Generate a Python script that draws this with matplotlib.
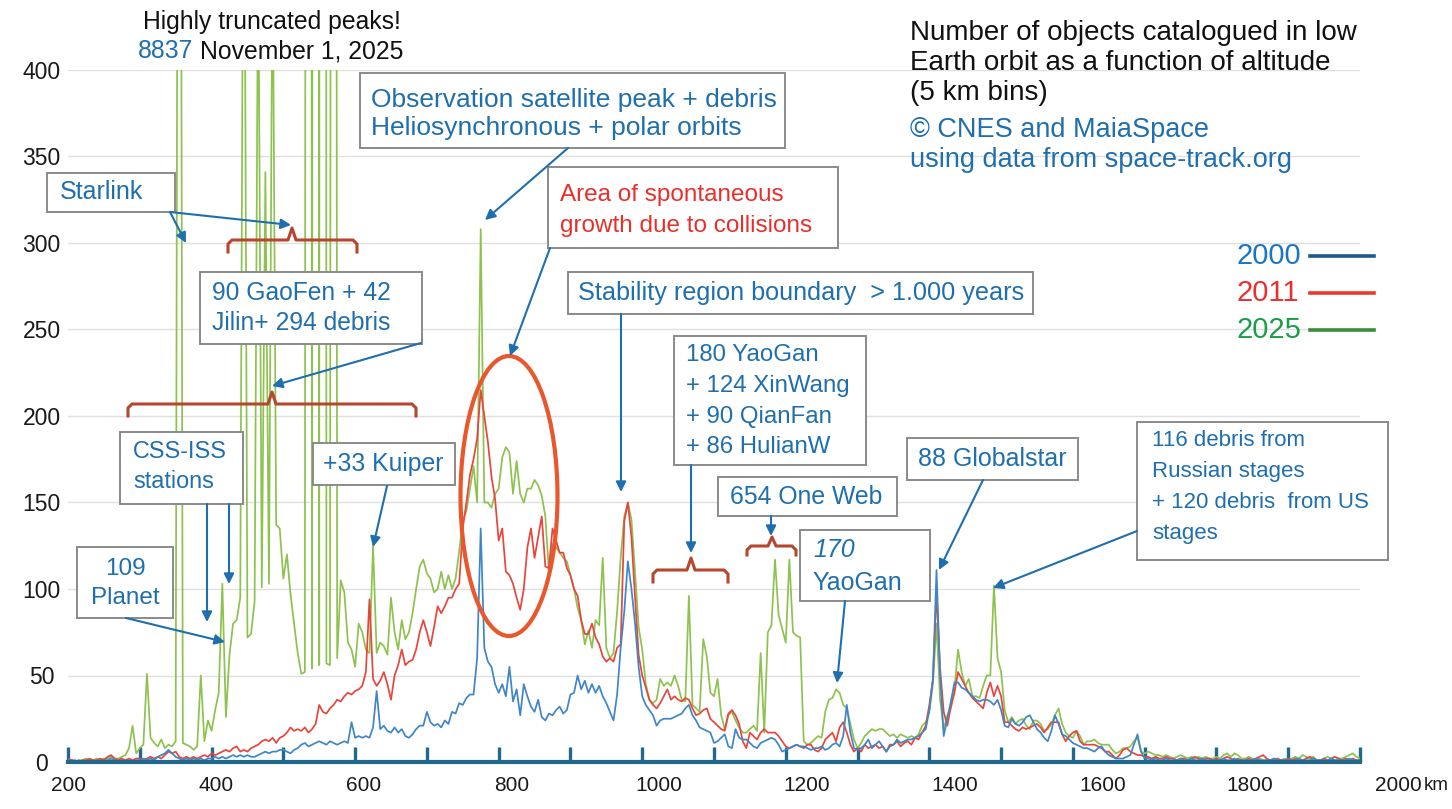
import numpy as np
import matplotlib
matplotlib.use("Agg")
import matplotlib.pyplot as plt
from matplotlib.patches import Rectangle, Ellipse, FancyArrowPatch
from matplotlib.lines import Line2D
from matplotlib.transforms import IdentityTransform

plt.rcParams['font.family'] = ['Liberation Sans', 'DejaVu Sans']

# --- data: objects per 5 km altitude bin, 200 .. 2000 km ---
altitude = np.arange(200, 2001, 5)

count_2000 = [
    0, 1, 0, 1, 0, 0, 1, 0, 1, 0, 1, 1, 2, 1, 0, 1, 0, 1, 0, 1,                # 200
    1, 2, 1, 2, 1, 3, 4, 5, 7, 5, 3, 2, 1, 2, 1, 2, 1, 2, 1, 2,                # 300
    2, 3, 2, 3, 2, 3, 4, 3, 4, 3, 4, 3, 3, 4, 5, 6, 5, 6, 6, 7,                # 400
    7, 6, 5, 7, 8, 10, 11, 9, 10, 11, 12, 11, 10, 12, 11, 10, 11, 12, 11, 23,  # 500
    14, 15, 14, 15, 14, 20, 41, 19, 21, 18, 17, 20, 17, 19, 15, 14, 16, 19, 21, 21,  # 600
    29, 23, 21, 22, 20, 24, 22, 29, 28, 34, 33, 37, 39, 39, 60, 135, 66, 58, 55, 45,  # 700
    40, 45, 38, 55, 35, 42, 27, 45, 38, 32, 29, 36, 26, 24, 28, 27, 30, 32, 28, 30,  # 800
    39, 40, 50, 42, 47, 40, 45, 40, 44, 38, 34, 29, 24, 39, 66, 87, 116, 100, 80, 55,  # 900
    38, 33, 30, 27, 21, 24, 25, 25, 25, 26, 27, 28, 31, 33, 27, 24, 20, 19, 18, 17,  # 1000
    11, 12, 14, 16, 9, 8, 19, 14, 13, 13, 11, 9, 8, 11, 12, 13, 14, 13, 10, 6,       # 1100
    7, 8, 9, 10, 9, 9, 8, 7, 8, 8, 9, 7, 8, 10, 11, 9, 15, 33, 17, 8,                # 1200
    7, 8, 10, 13, 8, 10, 12, 9, 6, 9, 10, 13, 11, 12, 13, 13, 14, 15, 17, 19,        # 1300
    30, 48, 111, 50, 15, 25, 35, 46, 46, 43, 42, 40, 38, 36, 35, 36, 36, 35, 33, 36,  # 1400
    30, 21, 20, 25, 22, 21, 23, 26, 27, 23, 19, 17, 14, 12, 18, 27, 22, 16, 15, 13,  # 1500
    11, 10, 9, 8, 8, 7, 6, 8, 9, 6, 4, 3, 2, 2, 2, 3, 4, 10, 16, 6,                  # 1600
    2, 2, 1, 2, 1, 1, 2, 1, 1, 1, 2, 1, 1, 2, 1, 1, 2, 1, 1, 1,                      # 1700
    1, 1, 2, 1, 1, 2, 1, 1, 1, 1, 1, 2, 1, 1, 1, 1, 2, 1, 1, 1,                      # 1800
    1, 1, 1, 2, 1, 1, 1, 2, 1, 1, 1, 1, 2, 1, 1, 1, 1, 2, 1, 1, 1,                   # 1900-2000
]

count_2011 = [
    2, 1, 1, 0, 1, 1, 2, 1, 1, 2, 1, 3, 4, 2, 1, 2, 1, 2, 1, 2,
    2, 1, 2, 3, 2, 3, 2, 4, 6, 5, 6, 3, 2, 3, 2, 3, 2, 3, 4, 3,
    5, 4, 5, 6, 7, 6, 8, 9, 6, 7, 6, 8, 9, 10, 12, 13, 12, 14, 11, 14,
    15, 17, 20, 18, 19, 18, 20, 17, 19, 22, 33, 29, 28, 31, 33, 36, 35, 38, 40, 39,
    41, 42, 44, 52, 94, 48, 44, 47, 52, 45, 36, 50, 56, 65, 56, 58, 59, 65, 75, 82,
    75, 67, 78, 90, 86, 90, 95, 95, 100, 103, 135, 150, 166, 175, 187, 215, 200, 185, 165, 152,
    128, 135, 110, 108, 103, 95, 88, 100, 124, 135, 118, 130, 142, 113, 112, 135, 128, 121, 121, 112,
    108, 100, 96, 82, 74, 74, 80, 72, 68, 61, 58, 60, 58, 66, 68, 139, 150, 130, 95, 62,
    50, 43, 36, 33, 31, 34, 38, 42, 36, 38, 36, 35, 37, 36, 31, 27, 28, 30, 31, 25,
    23, 21, 19, 18, 28, 30, 27, 22, 12, 8, 17, 15, 13, 17, 19, 17, 17, 17, 15, 12,
    9, 8, 9, 10, 9, 8, 10, 10, 7, 6, 8, 13, 15, 17, 12, 20, 23, 17, 10, 6,
    8, 6, 10, 8, 9, 10, 8, 9, 6, 10, 10, 12, 9, 11, 12, 10, 14, 13, 17, 21,
    33, 48, 98, 54, 29, 21, 32, 40, 52, 48, 44, 40, 37, 35, 33, 31, 40, 46, 38, 44,
    38, 23, 23, 21, 19, 18, 20, 19, 20, 21, 22, 20, 17, 20, 23, 23, 23, 16, 12, 15,
    17, 18, 12, 10, 10, 10, 10, 9, 8, 6, 6, 4, 2, 4, 7, 8, 6, 5, 4, 4,
    3, 3, 2, 3, 2, 2, 3, 2, 2, 1, 2, 2, 1, 2, 3, 2, 1, 2, 2, 1,
    2, 1, 2, 3, 2, 1, 2, 1, 1, 2, 1, 2, 3, 4, 2, 1, 1, 2, 1, 1,
    2, 1, 2, 1, 1, 2, 3, 2, 1, 1, 2, 1, 2, 3, 2, 1, 2, 1, 2, 1, 1,
]

# truncated Starlink / GaoFen peaks go far above 400 (max 8837)
count_2025 = [
    1, 1, 0, 1, 1, 2, 1, 1, 2, 1, 2, 2, 3, 2, 2, 3, 4, 8, 21, 5,
    8, 10, 51, 14, 11, 9, 13, 8, 10, 9, 12, 985, 11, 10, 9, 7, 9, 50, 12, 24,
    18, 30, 40, 103, 26, 62, 80, 82, 95, 600, 72, 74, 93, 480, 101, 341, 103, 480, 137, 135,
    106, 120, 97, 80, 63, 51, 52, 3000, 54, 4200, 56, 8837, 57, 56, 2500, 60, 105, 98, 69, 65,
    55, 80, 75, 65, 63, 125, 63, 69, 67, 62, 95, 75, 65, 82, 71, 75, 86, 100, 113, 117,
    109, 106, 98, 100, 110, 100, 108, 100, 106, 122, 140, 145, 158, 171, 150, 308, 150, 150, 147, 155,
    158, 176, 182, 179, 155, 174, 155, 150, 158, 158, 163, 160, 154, 142, 110, 126, 124, 121, 118, 116,
    108, 100, 89, 82, 68, 76, 66, 82, 79, 118, 66, 60, 63, 87, 118, 142, 150, 140, 110, 78,
    65, 45, 36, 34, 36, 48, 44, 46, 44, 50, 44, 36, 35, 96, 33, 31, 29, 71, 61, 40,
    38, 48, 27, 19, 27, 29, 24, 20, 17, 17, 19, 21, 18, 63, 17, 75, 79, 117, 85, 77,
    69, 117, 75, 73, 72, 12, 10, 11, 13, 15, 14, 29, 36, 37, 42, 40, 33, 31, 22, 13,
    8, 11, 15, 17, 19, 18, 19, 19, 17, 15, 16, 14, 16, 15, 14, 15, 14, 16, 21, 23,
    29, 45, 80, 36, 19, 27, 31, 42, 65, 52, 44, 48, 38, 38, 37, 44, 50, 50, 102, 60,
    52, 30, 23, 26, 22, 24, 25, 21, 19, 24, 24, 22, 18, 19, 22, 27, 31, 22, 17, 15,
    14, 18, 15, 10, 12, 12, 13, 11, 10, 10, 10, 7, 5, 6, 8, 8, 9, 12, 14, 6,
    5, 6, 5, 4, 4, 3, 4, 3, 2, 3, 4, 3, 2, 3, 2, 3, 2, 3, 2, 2,
    3, 2, 4, 5, 3, 5, 4, 2, 2, 3, 2, 1, 2, 1, 1, 1, 2, 1, 1, 2,
    1, 2, 3, 2, 4, 3, 2, 3, 1, 1, 2, 3, 2, 1, 2, 2, 3, 4, 5, 3, 2,
]

x_labels = [200, 400, 600, 800, 1000, 1200, 1400, 1600, 1800, 2000]
y_ticks = [0, 50, 100, 150, 200, 250, 300, 350, 400]

BLUE_LINE, RED_LINE, GREEN_LINE = '#3f86c8', '#e8453c', '#8dc24f'
TXT_BLUE = '#1f6fae'
TXT_RED = '#e8302a'
BRACE = '#b5472e'
BOX_EDGE = '#8a8a8a'
AXIS = '#21698c'

W, H = 1452, 809
fig = plt.figure(figsize=(W / 100, H / 100), dpi=100)
ax = fig.add_axes([68 / W, (H - 762) / H, 1292 / W, 692 / H])

ax.plot(altitude, count_2025, color=GREEN_LINE, lw=1.25, zorder=2)
ax.plot(altitude, count_2011, color=RED_LINE, lw=1.25, zorder=3)
ax.plot(altitude, count_2000, color=BLUE_LINE, lw=1.25, zorder=4)

ax.set_xlim(200, 2000)
ax.set_ylim(0, 400)
ax.set_yticks(y_ticks)
ax.set_xticks(range(200, 2001, 100))
ax.tick_params(axis='x', direction='in', length=11, width=2.4, color=AXIS,
               labelbottom=False)
ax.tick_params(axis='y', length=0, labelsize=16.5, pad=19, labelcolor='#1a1a1a')
for lab in ax.get_yticklabels():
    lab.set_ha('center')
ax.grid(axis='y', color='#e0e0e0', lw=1)
ax.set_axisbelow(True)
for s in ['top', 'right', 'left']:
    ax.spines[s].set_visible(False)
ax.spines['bottom'].set_color(AXIS)
ax.spines['bottom'].set_linewidth(3)
ax.spines['bottom'].set_zorder(5)

# x labels sit on their own, wider scale as in the original slide
lab_ax = fig.add_axes([68 / W, (H - 762) / H, 1330 / W, 0.0001])
lab_ax.set_xlim(200, 2000)
lab_ax.set_xticks(x_labels)
lab_ax.set_yticks([])
lab_ax.tick_params(axis='x', length=0, labelsize=15, pad=10, labelcolor='#1a1a1a')
for s in lab_ax.spines.values():
    s.set_visible(False)
lab_ax.patch.set_alpha(0)

PIX = IdentityTransform()


def fy(y):
    return H - y


def write(x, y, s, color=TXT_BLUE, size=18, ha='left', **kw):
    fig.text(x / W, 1 - y / H, s, color=color, fontsize=size, ha=ha,
             va='center', zorder=8, **kw)


def box(x0, y0, x1, y1):
    fig.add_artist(Rectangle((x0, fy(y1)), x1 - x0, y1 - y0, transform=PIX,
                             fc='white', ec=BOX_EDGE, lw=1.4, zorder=7))


def arrow(x0, y0, x1, y1):
    fig.add_artist(FancyArrowPatch((x0, fy(y0)), (x1, fy(y1)), transform=PIX,
                                   arrowstyle='-|>', mutation_scale=15,
                                   color=TXT_BLUE, lw=1.5, zorder=8,
                                   shrinkA=0, shrinkB=0))


def bracket(x0, x1, xc, y, up=12, down=12):
    xs = [x0, x0, x0 + 4, xc - 4, xc, xc + 4, x1 - 4, x1, x1]
    ys = [y + down, y + 4, y, y, y - up, y, y, y + 4, y + down]
    fig.add_artist(Line2D(xs, [fy(v) for v in ys], transform=PIX,
                          color=BRACE, lw=2.2, zorder=8))


# title block
write(910, 33, "Number of objects catalogued in low", color='#111111', size=20)
write(910, 63, "Earth orbit as a function of altitude", color='#111111', size=20)
write(910, 93, "(5 km bins)", color='#111111', size=20)
write(910, 130, "\u00a9 CNES and MaiaSpace", size=19.5)
write(910, 160, "using data from space-track.org", size=19.5)

write(272, 22, "Highly truncated peaks!", color='#111111', size=17.8, ha='center')
write(138, 51, "8837", size=17.8)
write(200, 51, "November 1, 2025", color='#111111', size=17.8)

# legend
for yy, name, tc, lc in [(256, "2000", '#1a75c5', '#1d5a8a'),
                         (293, "2011", '#e8312f', '#e83a30'),
                         (330, "2025", '#1a9e4b', '#3b8c3b')]:
    write(1236, yy, name, color=tc, size=21)
    fig.add_artist(Line2D([1310, 1374], [fy(yy), fy(yy)], transform=PIX,
                          color=lc, lw=2.6, zorder=8))

# annotation boxes
box(47, 173, 175, 212)
write(60, 192, "Starlink")
arrow(170, 212, 186, 243)
arrow(170, 212, 291, 225)
bracket(228, 357, 292, 240)

box(200, 272, 422, 344)
write(212, 293, "90 GaoFen + 42", size=17.7)
write(212, 323, "Jilin+ 294 debris", size=17.7)
arrow(421, 343, 272, 386)
bracket(128, 416, 272, 404)

box(120, 432, 243, 504)
write(133, 452, "CSS-ISS", size=16.8)
write(133, 482, "stations", size=16.8)
arrow(207, 504, 207, 622)
arrow(229, 504, 229, 584)

box(77, 547, 173, 618)
write(125, 569, "109", ha='center', size=17.5)
write(125, 598, "Planet", ha='center', size=17.5)
arrow(126, 618, 225, 642)

box(313, 443, 455, 485)
write(323, 464, "+33 Kuiper", size=17.8)
arrow(387, 486, 373, 547)

box(360, 73, 785, 148)
write(371, 100, "Observation satellite peak + debris", size=19)
write(371, 128, "Heliosynchronous + polar orbits", size=19)
arrow(568, 148, 485, 220)

box(548, 167, 838, 248)
write(560, 195, "Area of spontaneous", color=TXT_RED, size=17.5)
write(560, 226, "growth due to collisions", color=TXT_RED, size=17.5)
arrow(550, 248, 510, 356)
fig.add_artist(Ellipse((509, fy(496)), 97, 280, transform=PIX, fill=False,
                       ec='#e8582c', lw=3, zorder=6))

box(568, 272, 1033, 314)
write(578, 293, "Stability region boundary  > 1.000 years", size=18.2)
arrow(621, 314, 621, 492)

box(674, 336, 866, 465)
write(686, 355, "180 YaoGan", size=17.3)
write(686, 386, "+ 124 XinWang", size=17.3)
write(686, 417, "+ 90 QianFan", size=17.3)
write(686, 447, "+ 86 HulianW", size=17.3)
arrow(691, 465, 691, 553)
bracket(653, 728, 691, 570)

box(718, 477, 897, 516)
write(730, 497, "654 One Web", size=17.8)
arrow(771, 516, 771, 536)
bracket(747, 796, 772, 546, up=9, down=9)

box(800, 530, 930, 601)
write(813, 550, "170", style='italic', size=18)
write(812, 583, "YaoGan", size=18)
arrow(845, 601, 837, 683)

box(907, 438, 1078, 480)
write(918, 459, "88 Globalstar", size=18)
arrow(983, 480, 939, 570)

box(1137, 422, 1388, 560)
write(1152, 441, "116 debris from", size=16)
write(1152, 472, "Russian stages", size=16)
write(1152, 503, "+ 120 debris  from US", size=16)
write(1152, 534, "stages", size=16)
arrow(1137, 531, 993, 588)

write(1424, 786, "km", color='#1a1a1a', size=13.5)

fig.savefig("out.png", dpi=100)
